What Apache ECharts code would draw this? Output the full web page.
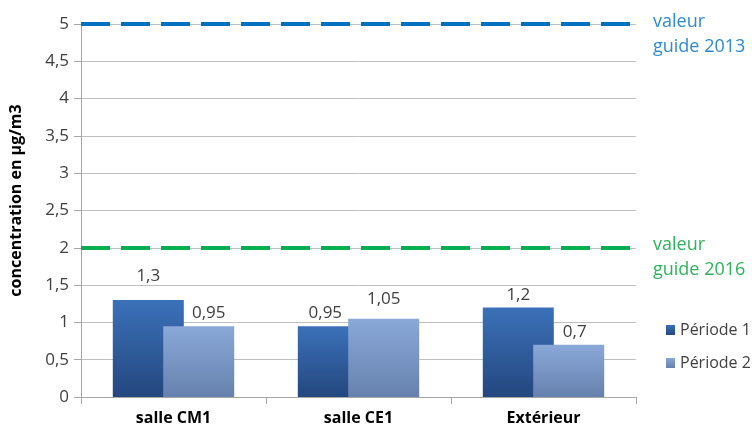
<!DOCTYPE html>
<html>
<head>
<meta charset="utf-8">
<script src="https://cdn.jsdelivr.net/npm/echarts@6/dist/echarts.min.js"></script>
<style>
  html, body { margin: 0; padding: 0; background: #ffffff; }
  #chart { width: 752px; height: 428px; }
</style>
</head>
<body>
<div id="chart"></div>
<script>
// Concentrations mesurées (µg/m3) par lieu et par période
const categories = ['salle CM1', 'salle CE1', 'Extérieur'];
const periode1 = [1.3, 0.95, 1.2];
const periode2 = [0.95, 1.05, 0.7];
const seriesNames = ['Période 1', 'Période 2'];

// Valeurs guides réglementaires
const guideValues = [5, 2];
const guideLabels = ['valeur\nguide 2013', 'valeur\nguide 2016'];

// Axe des ordonnées
const yTicks = [0, 0.5, 1, 1.5, 2, 2.5, 3, 3.5, 4, 4.5, 5];

const FONT = '"Open Sans", sans-serif';
const fr = v => String(v).replace('.', ',');

// Décalages manuels des étiquettes pour éviter les chevauchements
const labelShift = [
  [[0, -11], [-8, 0], [0, 0]],
  [[10, 0], [0, -7], [6, 0]]
];

function grad(top, bottom) {
  return new echarts.graphic.LinearGradient(0, 0, 0, 1, [
    { offset: 0, color: top },
    { offset: 1, color: bottom }
  ]);
}

const colors = [grad('#3b71b9', '#24477e'), grad('#8aa8d8', '#6681ad')];

function barData(values, s) {
  return values.map((v, i) => ({
    value: v,
    label: { offset: labelShift[s][i] }
  }));
}

const chart = echarts.init(document.getElementById('chart'), null, { renderer: 'canvas' });

const guideColors = ['#0070c0', '#00b050'];
const guideTextColors = ['#2f8ad0', '#2db35c'];

chart.setOption({
  animation: false,
  textStyle: { fontFamily: FONT },
  grid: { left: 80, right: 116, top: 24, bottom: 31, containLabel: false },
  legend: {
    data: seriesNames,
    orient: 'vertical',
    left: 661,
    top: 317,
    itemWidth: 9,
    itemHeight: 10,
    itemGap: 17,
    icon: 'rect',
    textStyle: { fontFamily: FONT, fontSize: 16, color: '#404040' }
  },
  xAxis: {
    type: 'category',
    data: categories,
    axisLine: { lineStyle: { color: '#a6a6a6', width: 1 } },
    axisTick: { show: true, length: 7, lineStyle: { color: '#a6a6a6' } },
    axisLabel: { fontFamily: FONT, fontSize: 16, fontWeight: 'bold', color: '#000000', margin: 13 }
  },
  yAxis: {
    type: 'value',
    min: yTicks[0],
    max: yTicks[yTicks.length - 1],
    interval: yTicks[1] - yTicks[0],
    name: 'concentration en µg/m3',
    nameLocation: 'middle',
    nameGap: 57,
    nameTextStyle: { fontFamily: FONT, fontSize: 16, fontWeight: 'bold', color: '#000000', padding: [0, 0, 0, 20] },
    axisLine: { show: true, lineStyle: { color: '#a6a6a6', width: 1 } },
    axisTick: { show: true, length: 7, lineStyle: { color: '#a6a6a6' } },
    axisLabel: { fontFamily: FONT, fontSize: 17, color: '#404040', margin: 12, formatter: v => fr(v) },
    splitLine: { lineStyle: { color: '#bfbfbf', width: 1 } }
  },
  series: [
    {
      name: seriesNames[0],
      type: 'bar',
      data: barData(periode1, 0),
      barWidth: 71,
      barGap: '-29%',
      itemStyle: { color: colors[0] },
      label: {
        show: true, position: 'top', distance: 4,
        fontFamily: FONT, fontSize: 17, color: '#404040',
        formatter: p => fr(p.value)
      },
      markLine: {
        silent: true,
        symbol: 'none',
        animation: false,
        data: guideValues.map((g, i) => ({
          yAxis: g,
          lineStyle: { color: guideColors[i], width: 4, type: [29, 11] },
          label: {
            show: true,
            position: 'end',
            distance: 17,
            formatter: guideLabels[i],
            fontFamily: FONT,
            fontSize: 18,
            lineHeight: 25,
            color: guideTextColors[i],
            align: 'left',
            offset: [0, 10]
          }
        }))
      }
    },
    {
      name: seriesNames[1],
      type: 'bar',
      data: barData(periode2, 1),
      barWidth: 71,
      barGap: '-29%',
      itemStyle: { color: colors[1] },
      label: {
        show: true, position: 'top', distance: 4,
        fontFamily: FONT, fontSize: 17, color: '#404040',
        formatter: p => fr(p.value)
      }
    }
  ]
});
</script>
</body>
</html>
